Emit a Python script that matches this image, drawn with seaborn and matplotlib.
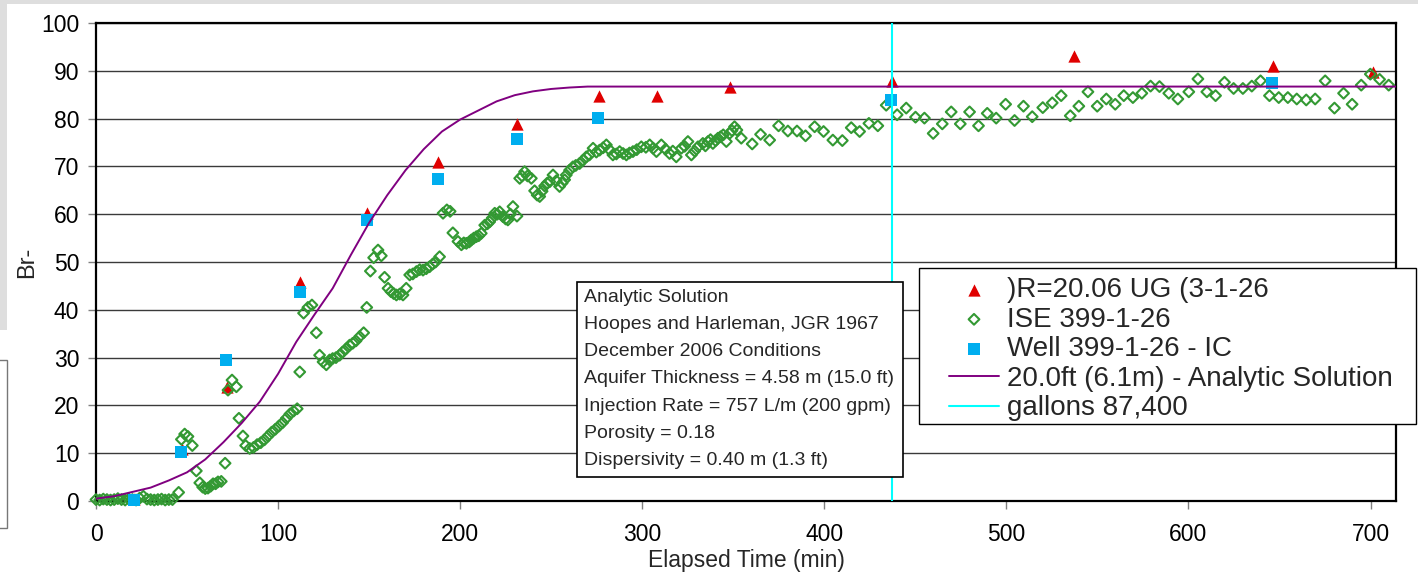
import numpy as np
import pandas as pd
import seaborn as sns
import matplotlib.pyplot as plt
from matplotlib.patches import Rectangle

# ---- data ----
# )R=20.06 UG (3-1-26  (red triangles)
ug_t = [21, 47, 72, 112, 149, 188, 231.5, 276, 308, 348, 437, 537, 646.5, 701.5]
ug_br = [0.5, 10.8, 23.9, 45.9, 60.2, 70.9, 78.9, 84.8, 84.8, 86.7, 87.9, 93.1, 90.9, 89.8]

# Well 399-1-26 - IC (blue squares)
ic_t = [21, 46.5, 71.2, 111.8, 148.8, 187.8, 231.2, 275.7, 436.6, 646]
ic_br = [0.2, 10.2, 29.4, 43.7, 58.8, 67.4, 75.7, 80.2, 83.9, 87.4]

# ISE 399-1-26 (open green diamonds)
ise_t = [0, 2, 4, 6, 8, 10, 12, 14, 16, 18, 20, 22, 24, 26, 28, 30, 32, 34, 36, 38, 40, 42,
         45.4, 46.9, 48.7, 50.5, 52.9, 55.1, 57.0, 58.6, 60.0, 61.5, 63.0, 64.3, 65.7, 67.0, 68.8,
         70.9, 72.5, 74.7, 77.1, 78.5, 80.7, 82.2, 84.4, 86.5, 88.5, 90.5, 92.5, 94.5, 96.5, 98.5,
         100.5, 102.5, 104.5, 106.5, 108.5, 110.5, 111.9, 114.0, 116.4, 118.6, 121.0, 122.8, 124.7,
         126.5, 128.3, 130.0, 131.8, 133.8, 135.5, 137.3, 139.3, 141.0, 142.8, 144.8, 147.0, 148.7,
         150.7, 152.5, 154.9, 156.7, 158.5, 160.4, 162.0, 163.5, 165.0, 166.8, 168.6, 170.4, 172.3,
         174.0, 176.0, 177.8, 179.6, 181.4, 183.2, 185.0, 186.5, 188.7, 190.6, 192.7, 194.5, 196.0,
         198.8, 200.7, 202.0, 203.4, 205.0, 206.1, 207.5, 208.9, 210.2, 211.6, 213.5, 215.0, 216.2,
         217.6, 219.0, 220.4, 221.7, 223.5, 225.0, 226.2, 227.6, 229.0, 231.2, 232.7, 234.0, 235.4,
         237.0, 239.1, 240.9, 242.3, 243.7, 245.0, 246.4, 247.8, 249.2, 251.0, 252.8, 254.6, 256.0,
         257.4, 258.3, 260.1, 261.9, 263.5, 265.6, 267.5, 269.3, 271.0, 273.0, 274.8, 276.6, 278.5,
         280.3, 282.0, 283.9, 285.8, 287.6, 289.5, 291.3, 293.0, 294.9, 297.0, 299.5, 302.0, 304.1,
         306.0, 307.8, 310.5, 312.8, 315.0, 316.8, 318.7, 321.5, 323.3, 325.1, 327.0, 328.8, 330.6,
         333.3, 334.7, 336.1, 337.5, 338.8, 340.3, 341.6, 343.0, 344.5, 346.2, 348.0, 349.3, 350.7,
         352.0, 354.4, 360.4, 365.0, 370.0, 374.9, 380.0, 385.0, 389.7, 394.7, 399.6, 404.7, 409.9,
         414.8, 419.4, 424.5, 429.4, 434.0, 440.0, 445.0, 450.1, 455.0, 459.8, 464.8, 469.7, 474.7,
         479.8, 484.7, 489.5, 494.4, 499.6, 504.5, 509.4, 514.2, 520.0, 525.2, 530.1, 535.1, 539.8,
         544.8, 549.9, 554.9, 559.8, 564.5, 569.5, 574.4, 579.2, 584.1, 589.2, 594.2, 600.2, 605.2,
         610.1, 614.9, 619.8, 624.8, 629.9, 634.8, 639.6, 644.5, 649.6, 654.6, 659.5, 664.7, 669.6,
         675.1, 680.2, 685.2, 689.9, 694.9, 699.9, 705.0, 710.0]
ise_br = [0.3, 0.2, 0.4, 0.3, 0.2, 0.3, 0.5, 0.3, 0.2, 0.4, 0.3, 0.2, 0.6, 1.0, 0.4, 0.3, 0.2, 0.3, 0.4, 0.2, 0.3, 0.3,
          1.8, 12.9, 14.0, 13.5, 11.6, 6.3, 3.8, 2.9, 2.6, 2.7, 3.1, 3.6, 3.6, 4.0, 4.1,
          7.9, 23.2, 25.3, 23.9, 17.3, 13.6, 11.6, 11.0, 11.2, 11.8, 12.2, 12.8, 13.6, 14.4, 15.0,
          15.7, 16.4, 17.3, 18.2, 18.8, 19.3, 27.0, 39.3, 40.5, 41.0, 35.2, 30.5, 29.1,
          28.5, 29.5, 29.8, 30.0, 30.5, 31.2, 31.8, 32.6, 33.0, 33.5, 34.4, 35.2, 40.5,
          48.1, 50.9, 52.5, 51.3, 46.8, 44.5, 43.8, 43.4, 43.1, 43.3, 43.1, 44.5, 47.3,
          47.5, 48.0, 48.4, 48.3, 48.6, 49.0, 49.6, 50.0, 51.1, 60.2, 60.9, 60.6, 56.1,
          54.3, 53.6, 54.0, 53.9, 54.2, 54.6, 55.0, 55.3, 55.5, 56.0, 57.7, 58.0, 58.4,
          59.2, 60.2, 60.0, 60.5, 59.5, 59.0, 58.8, 60.0, 61.6, 59.6, 67.5, 68.0, 68.9,
          68.0, 67.5, 64.9, 64.0, 63.7, 64.8, 65.9, 66.5, 66.8, 68.2, 67.0, 65.8, 66.5,
          67.2, 68.2, 69.2, 69.9, 70.2, 70.6, 71.3, 72.0, 72.4, 73.8, 73.0, 73.4, 73.9,
          74.5, 73.5, 72.4, 72.6, 73.1, 72.7, 72.4, 72.8, 73.1, 73.5, 74.1, 74.0, 74.5,
          73.8, 73.1, 74.5, 73.6, 72.7, 73.2, 72.0, 73.8, 74.2, 75.2, 72.4, 73.2, 74.1,
          74.8, 74.3, 75.2, 75.6, 74.8, 75.4, 75.9, 76.2, 76.6, 75.2, 76.9, 77.5, 78.3,
          77.6, 75.9, 74.7, 76.7, 75.5, 78.5, 77.4, 77.4, 76.4, 78.3, 77.3, 75.5, 75.4,
          78.1, 77.3, 79.0, 78.5, 82.8, 80.8, 82.2, 80.3, 80.1, 76.9, 78.9, 81.4, 78.9,
          81.4, 78.5, 81.1, 80.1, 83.0, 79.6, 82.6, 80.4, 82.3, 83.3, 84.8, 80.6, 82.6,
          85.6, 82.6, 84.1, 83.0, 84.8, 84.4, 85.3, 86.8, 86.7, 85.3, 84.1, 85.6, 88.3,
          85.6, 84.8, 87.6, 86.3, 86.3, 86.8, 87.9, 84.8, 84.4, 84.4, 84.1, 83.9, 84.1,
          87.9, 82.2, 85.3, 83.0, 87.0, 89.3, 88.2, 87.0]

# 20.0ft (6.1m) - Analytic Solution (purple line)
curve_t = [0, 10, 20, 30, 40, 50, 60, 70, 80, 90, 100, 110, 120, 130, 140, 150, 160, 170,
           180, 190, 200, 210, 220, 230, 240, 250, 260, 270, 714]
curve_br = [0.5, 1.0, 1.9, 2.8, 4.3, 6.0, 8.7, 12.3, 16.3, 20.8, 26.6, 33.3, 39.0, 44.5, 51.5,
            58.2, 64.0, 69.2, 73.6, 77.3, 79.8, 81.7, 83.6, 84.9, 85.7, 86.2, 86.5, 86.7, 86.7]

gallons_t = 437  # cyan marker line: gallons 87,400

info_lines = ["Analytic Solution",
              "Hoopes and Harleman, JGR 1967",
              "December 2006 Conditions",
              "Aquifer Thickness = 4.58 m (15.0 ft)",
              "Injection Rate = 757 L/m (200 gpm)",
              "Porosity = 0.18",
              "Dispersivity = 0.40 m (1.3 ft)"]

# ---- figure ----
sns.set_style("white")
plt.rcParams['font.family'] = ['Liberation Sans', 'DejaVu Sans']

W, H = 1418, 575
fig = plt.figure(figsize=(W / 100, H / 100), dpi=100)


def fx(px):
    return px / W


def fy(py):
    return 1 - py / H


ax = fig.add_axes([fx(96), fy(501), fx(1396) - fx(96), fy(23) - fy(501)])

sns.scatterplot(x=ug_t, y=ug_br, marker='^', s=78, color='#E00000', edgecolor='#E00000',
                linewidth=0, label=')R=20.06 UG (3-1-26', ax=ax, zorder=3, clip_on=False)
sns.scatterplot(x=ise_t, y=ise_br, marker='D', s=30, color='#339933', facecolors='none',
                edgecolor='#339933', linewidth=1.5, label='ISE 399-1-26', ax=ax, zorder=4,
                clip_on=False)
sns.scatterplot(x=ic_t, y=ic_br, marker='s', s=64, color='#00AEEF', edgecolor='#00AEEF',
                linewidth=0, label='Well 399-1-26 - IC', ax=ax, zorder=5, clip_on=False)
sns.lineplot(x=curve_t, y=curve_br, color='#800080', linewidth=1.4, errorbar=None,
             label='20.0ft (6.1m) - Analytic Solution', ax=ax, zorder=6)
ax.axvline(gallons_t, color='#00FFFF', linewidth=1.5, label='gallons 87,400', zorder=7)

handles, labels = ax.get_legend_handles_labels()
if ax.get_legend() is not None:
    ax.get_legend().remove()

ax.set_xlim(0, 714)
ax.set_ylim(0, 100)
ax.set_xticks(range(0, 701, 100))
ax.set_yticks(range(0, 101, 10))
ax.grid(axis='y', color='#3a3a3a', linewidth=1.0)
ax.grid(axis='x', visible=False)
ax.set_axisbelow(True)
for sp in ax.spines.values():
    sp.set_color('black')
    sp.set_linewidth(1.6)
ax.tick_params(axis='both', direction='out', length=6, width=1, color='#808080',
               labelsize=16.5, labelcolor='black')
ax.tick_params(axis='x', pad=10, bottom=True)
ax.tick_params(axis='y', pad=6, left=True)

ax.set_xlabel('Elapsed Time (min)', fontsize=16.5)
ax.set_ylabel('Br-', fontsize=17)
ax.xaxis.set_label_coords(0.5, (501 - 560) / 478)
ax.xaxis.label.set_va('center')
ax.yaxis.set_label_coords((27 - 96) / 1300, 0.5)
ax.yaxis.label.set_va('center')

# info box
fig.add_artist(Rectangle((fx(577), fy(477)), fx(903) - fx(577), fy(282) - fy(477),
                         transform=fig.transFigure, facecolor='white', edgecolor='black',
                         linewidth=1.2, zorder=2))
for i, line in enumerate(info_lines):
    fig.text(fx(584), fy(297 + i * 27.3), line, fontsize=14, ha='left', va='center', zorder=3)

# legend
fig.add_artist(Rectangle((fx(919), fy(424)), fx(1416) - fx(919), fy(268) - fy(424),
                         transform=fig.transFigure, facecolor='white', edgecolor='black',
                         linewidth=1.0, zorder=4))
fig.legend(handles, labels, loc='upper left', bbox_to_anchor=(fx(949), fy(277)),
           frameon=False, fontsize=20, borderpad=0, borderaxespad=0, labelspacing=0.13,
           handlelength=1.8, handletextpad=0.3, scatterpoints=1)

# grey window edges around the screenshot
fig.add_artist(Rectangle((0, fy(4)), 1, fy(0) - fy(4), transform=fig.transFigure,
                         facecolor='#DEDEDE', edgecolor='none', zorder=-1))
fig.add_artist(Rectangle((0, fy(330)), fx(7), fy(0) - fy(330), transform=fig.transFigure,
                         facecolor='#DEDEDE', edgecolor='none', zorder=-1))
fig.add_artist(Rectangle((fx(-3), fy(528)), fx(10), fy(360) - fy(528), transform=fig.transFigure,
                         fill=False, edgecolor='#777777', linewidth=1.0, zorder=-1))

fig.savefig('out.png', dpi=100)
